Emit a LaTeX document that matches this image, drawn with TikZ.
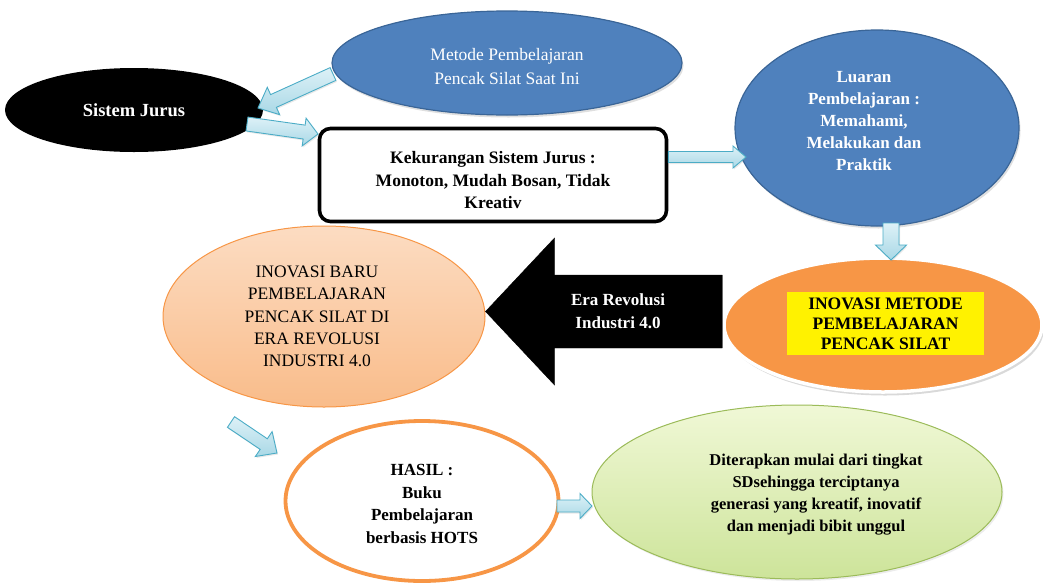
\documentclass[tikz,border=0pt]{standalone}
\usepackage{fontspec}
\setmainfont{Liberation Serif}
\usetikzlibrary{shapes.geometric,calc,shadows}
\definecolor{blueF}{HTML}{4F81BD}
\definecolor{blueD}{HTML}{3A6597}
\definecolor{orF}{HTML}{F79646}
\definecolor{peachT}{HTML}{FCDCC2}
\definecolor{peachB}{HTML}{F9BC8A}
\definecolor{greenT}{HTML}{F0F8D6}
\definecolor{greenB}{HTML}{CDE49A}
\definecolor{greenD}{HTML}{9BBB59}
\definecolor{arrF}{HTML}{A9D8E6}
\definecolor{arrL}{HTML}{DDF1F7}
\definecolor{arrD}{HTML}{4BACC6}
\newcommand{\blockarr}[6][blockarrow]{%
  \coordinate (ba-h) at ($(#3)!#6!(#2)$);
  \draw[#1] ($(#2)!#4!90:(#3)$) -- ($(ba-h)!#4!90:(#3)$) -- ($(ba-h)!#5!90:(#3)$) -- (#3)
    -- ($(ba-h)!#5!-90:(#3)$) -- ($(ba-h)!#4!-90:(#3)$) -- ($(#2)!#4!-90:(#3)$) -- cycle;
}
\begin{document}
\begin{tikzpicture}[x=1pt,y=-1pt,
  every node/.style={inner sep=0pt, align=center},
  blueell/.style={ellipse, fill=blueF, draw=blueD, line width=1.2pt, text=white,
    drop shadow={opacity=0.25, shadow xshift=1.5pt, shadow yshift=-2.5pt}},
  blockarrow/.style={top color=arrL, bottom color=arrF, draw=arrD, line width=0.9pt,
    drop shadow={opacity=0.18, shadow xshift=1pt, shadow yshift=-1.5pt}},
  bigarrow/.style={fill=black, draw=black},
  txtb/.style={font=\bfseries\fontsize{17.5}{22.5}\selectfont}
]
\useasboundingbox (0,0) rectangle (1043,584);

% shapes
\node[ellipse, fill=black, minimum width=258pt, minimum height=84pt, text=white,
  font=\bfseries\fontsize{18.5}{22}\selectfont] (sj) at (134,110) {Sistem Jurus};

\node[blueell, minimum width=350pt, minimum height=104pt,
  font=\fontsize{17.5}{24}\selectfont] (metode) at (507,63)
  {\rule{0pt}{19pt}Metode Pembelajaran\\Pencak Silat Saat Ini};

\node[draw=black, line width=3.6pt, rounded corners=11pt, fill=white,
  minimum width=347pt, minimum height=93pt, txtb] (kek) at (493,175)
  {\rule{0pt}{23pt}Kekurangan Sistem Jurus :\\Monoton, Mudah Bosan, Tidak\\Kreativ};

\node[blueell, minimum width=284pt, minimum height=196pt] (luaran) at (877,128) {};
\node[text=white, font=\bfseries\fontsize{17}{22}\selectfont] (luaranT) at (864,121)
  {Luaran\\Pembelajaran :\\Memahami,\\Melakukan dan\\Praktik};

\node[ellipse, fill=orF, draw=white, line width=3.5pt, minimum width=318pt, minimum height=134pt,
  drop shadow={opacity=0.3, shadow xshift=2pt, shadow yshift=-3.5pt}] (inov) at (883,325) {};
\node[fill=yellow, minimum width=197pt, minimum height=63pt,
  font=\bfseries\fontsize{17.5}{20}\selectfont] (yel) at (885.5,323.5)
  {INOVASI METODE\\PEMBELAJARAN\\PENCAK SILAT};

\node[ellipse, top color=peachT, bottom color=peachB, draw=orF, line width=1pt,
  minimum width=322pt, minimum height=181pt] (baru) at (324,316.5) {};
\node[font=\fontsize{17.5}{22.3}\selectfont] (baruT) at (317,316.5)
  {INOVASI BARU\\PEMBELAJARAN\\PENCAK SILAT DI\\ERA REVOLUSI\\INDUSTRI 4.0};

\node[ellipse, fill=white, draw=orF, line width=3.8pt, minimum width=273pt, minimum height=160pt,
  font=\bfseries\fontsize{17}{22.7}\selectfont] (hasil) at (422,501)
  {\rule{0pt}{17pt}HASIL :\\Buku\\Pembelajaran\\berbasis HOTS};

\node[ellipse, top color=greenT, bottom color=greenB, draw=greenD, line width=1pt,
  minimum width=410pt, minimum height=174pt,
  drop shadow={opacity=0.15, shadow xshift=1.5pt, shadow yshift=-2pt}] (green) at (797,492) {};
\node[font=\bfseries\fontsize{16.5}{22}\selectfont] (greenT) at (816,495)
  {Diterapkan mulai dari tingkat\\SDsehingga terciptanya\\generasi yang kreatif, inovatif\\dan menjadi bibit unggul};

% big black arrow
\coordinate (eraTail) at (inov.west |- 0,311.5);
\coordinate (eraTip) at (baru.east |- 0,311.5);
\blockarr[bigarrow]{eraTail}{eraTip}{36.5pt}{73.5pt}{69pt}
\node[text=white, font=\bfseries\fontsize{17}{23}\selectfont] (era) at (618,311.5)
  {Era Revolusi\\Industri 4.0};

% block arrows
\coordinate (a1s) at (333,74);
\coordinate (a1e) at (258,108);
\blockarr{a1s}{a1e}{7pt}{15pt}{17pt}
\coordinate (a2s) at (247,124);
\coordinate (a2e) at (318,134);
\blockarr{a2s}{a2e}{7pt}{14pt}{14pt}
\coordinate (a3s) at (kek.east |- 0,157);
\coordinate (a3e) at (746,157);
\blockarr{a3s}{a3e}{5.5pt}{11pt}{13pt}
\coordinate (a4s) at (891,223);
\coordinate (a4e) at (891,260);
\blockarr{a4s}{a4e}{8pt}{15.5pt}{15pt}
\coordinate (a5s) at (231,422);
\coordinate (a5e) at (277,453);
\blockarr{a5s}{a5e}{6.4pt}{15pt}{16pt}
\coordinate (a6s) at (557,506);
\coordinate (a6e) at (592,506);
\blockarr{a6s}{a6e}{6pt}{12.5pt}{12pt}
\end{tikzpicture}
\end{document}
